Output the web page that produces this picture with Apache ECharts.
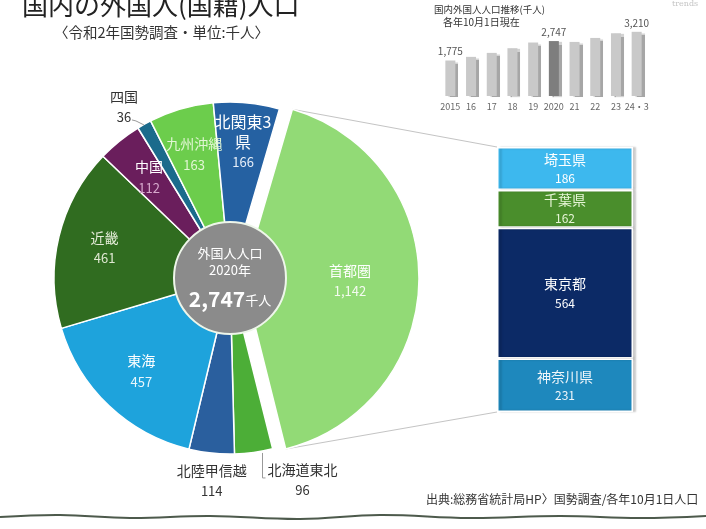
<!DOCTYPE html>
<html>
<head>
<meta charset="utf-8">
<script src="https://cdn.jsdelivr.net/npm/echarts@6/dist/echarts.min.js"></script>
<style>
  html, body { margin: 0; padding: 0; background: #fff; }
  #main { width: 706px; height: 529px; }
</style>
</head>
<body>
<div id="main"></div>
<script>
// 地域別の外国人人口（千人）
const regionNames = ['首都圏', '北海道東北', '北陸甲信越', '東海', '近畿', '中国', '四国', '九州沖縄', '北関東3県'];
const regionLabels = ['首都圏', '北海道東北', '北陸甲信越', '東海', '近畿', '中国', '四国', '九州沖縄', '北関東3\n県'];
const regionValues = [1142, 96, 114, 457, 461, 112, 36, 163, 166];

// 首都圏の内訳
const metroNames = ['埼玉県', '千葉県', '東京都', '神奈川県'];
const metroValues = [186, 162, 564, 231];

// 推移（千人）
const trendYears = ['2015', '16', '17', '18', '19', '2020', '21', '22', '23', '24・3'];
const trendValues = [1775, 1957, 2156, 2390, 2674, 2747, 2704, 2903, 3137, 3210];
const trendLabeled = ['2015', '2020', '24・3'];

// styles
const regionColors = ['#92da76', '#4cae37', '#2a5f9e', '#1ea3dc', '#306c20', '#6a1e5c', '#1b6b8c', '#6ccd4c', '#2561a2'];
const regionTextColors = ['#fff', '#333', '#333', '#fff', '#e4ecd8', '#fff', '#333', '#e2f6d4', '#fff'];
const regionValueColors = ['#f4fbf0', '#333', '#333', '#e8f6fc', '#dfe8d2', '#d6a8cc', '#333', '#e2f6d4', '#e6eef8'];
const metroColors = ['#3db8ee', '#4a8e2c', '#0c2a66', '#1e88bd'];
const metroTextColors = ['#fff', '#e6f5d6', '#fff', '#f0f6fa'];

const FONT = 'Noto Sans CJK JP';
const PIE_CENTER = [230, 278];
const PIE_R = 176;
const PIE_OFFSET = 13;
const START_ANGLE = 73.7;
const METRO_GRID = { left: 497, top: 147, width: 136, height: 265 };
const OUTSIDE = ['四国', '北陸甲信越', '北海道東北', '北関東3県'];

const chart = echarts.init(document.getElementById('main'));

const total = regionValues.reduce((a, b) => a + b, 0);
const metroTotal = metroValues.reduce((a, b) => a + b, 0);

function regionLabel(i) {
    const big = regionNames[i] === '北関東3県';
    return {
        color: regionTextColors[i],
        position: OUTSIDE.indexOf(regionNames[i]) >= 0 ? 'outside' : 'inside',
        formatter: '{n|' + regionLabels[i] + '}\n{v|' + regionValues[i].toLocaleString('en-US') + '}',
        rich: {
            n: { fontSize: big ? 16 : 14, lineHeight: big ? 20 : 21, align: 'center', fontFamily: FONT, color: regionTextColors[i] },
            v: { fontSize: 13, lineHeight: big ? 20 : 21, align: 'center', fontFamily: FONT, color: regionValueColors[i] }
        }
    };
}

function regionLabelLine(i) {
    if (regionNames[i] === '四国' || regionNames[i] === '北海道東北') return { show: true };
    return { show: false };
}

// 外側ラベルの位置はスライスの外接矩形から決める
function pieLabelLayout(params) {
    const name = regionNames[params.dataIndex];
    const r = params.rect;
    if (name === '北陸甲信越') {
        return { x: r.x + r.width / 2, y: r.y + r.height + 6, align: 'center', verticalAlign: 'top' };
    }
    if (name === '北海道東北') {
        const lx = r.x + r.width * 0.75;
        const y0 = r.y + r.height;
        return {
            x: lx + 5, y: y0 + 5, align: 'left', verticalAlign: 'top',
            labelLinePoints: [[lx, y0 - 1], [lx, y0 + 24], [lx + 3, y0 + 24]]
        };
    }
    if (name === '四国') {
        return {
            x: r.x - 14, y: r.y + 7, align: 'center', verticalAlign: 'bottom',
            labelLinePoints: [[r.x + 6, r.y + 4], [r.x - 2, r.y], [r.x - 6, r.y - 1]]
        };
    }
    if (name === '北関東3県') {
        return { x: r.x + r.width * 0.45, y: r.y + 40, align: 'center', verticalAlign: 'middle' };
    }
    if (name === '首都圏') {
        return { dx: -22 };
    }
    return {};
}

const pieSlices = regionValues.map((v, i) => ({
    name: regionNames[i],
    value: v,
    selected: i === 0,
    itemStyle: { color: regionColors[i] }
}));

const pieLabels = regionValues.map((v, i) => ({
    name: regionNames[i],
    value: v,
    selected: i === 0,
    label: regionLabel(i),
    labelLine: regionLabelLine(i)
}));

const metroSeries = metroValues.map((v, i) => ({
    type: 'bar',
    name: metroNames[i],
    stack: 'metro',
    xAxisIndex: 0,
    yAxisIndex: 0,
    barWidth: '100%',
    data: [v],
    silent: true,
    itemStyle: {
        color: metroColors[i],
        borderColor: '#fff',
        borderWidth: 1.5,
        shadowColor: 'rgba(0,0,0,0.18)',
        shadowOffsetX: 3,
        shadowBlur: 2
    },
    label: {
        show: true,
        position: 'inside',
        color: metroTextColors[i],
        fontFamily: FONT,
        formatter: '{n|' + metroNames[i] + '}\n{v|' + v + '}',
        rich: {
            n: { fontSize: 14, fontFamily: FONT, lineHeight: 20 },
            v: { fontSize: 12, fontFamily: FONT, lineHeight: 18 }
        }
    }
}));

const option = {
    animation: false,
    backgroundColor: '#fff',
    textStyle: { fontFamily: FONT },
    title: [
        { text: '国内の外国人(国籍)人口', left: 22, top: -8, padding: 0,
          textStyle: { fontSize: 26, fontWeight: 'normal', color: '#222', fontFamily: FONT } },
        { text: '〈令和2年国勢調査・単位:千人〉', left: 54, top: 25, padding: 0,
          textStyle: { fontSize: 14.5, fontWeight: 'normal', color: '#333', fontFamily: FONT } },
        { text: '出典:総務省統計局HP〉国勢調査/各年10月1日人口', left: 426, top: 493, padding: 0,
          textStyle: { fontSize: 12, fontWeight: 'normal', color: '#333', fontFamily: FONT } },
        { text: '国内外国人人口推移(千人)', left: 434, top: 5, padding: 0,
          textStyle: { fontSize: 9.5, fontWeight: 'normal', color: '#333', fontFamily: FONT } },
        { text: '各年10月1日現在', left: 443, top: 17, padding: 0,
          textStyle: { fontSize: 10, fontWeight: 'normal', color: '#333', fontFamily: FONT } },
        { text: 'trends', left: 672, top: 0, padding: 0,
          textStyle: { fontSize: 8, fontWeight: 'normal', color: '#c4c4c4', fontFamily: 'DejaVu Serif' } }
    ],
    grid: [
        Object.assign({}, METRO_GRID),
        { left: 440, top: 26, width: 207, height: 70 }
    ],
    xAxis: [
        { type: 'category', gridIndex: 0, data: [''], show: false },
        {
            type: 'category', gridIndex: 1, data: trendYears,
            axisLine: { show: false }, axisTick: { show: false },
            axisLabel: { fontSize: 9, color: '#666', margin: 6, fontFamily: FONT, interval: 0 }
        }
    ],
    yAxis: [
        { type: 'value', gridIndex: 0, min: 0, max: metroTotal, inverse: true, show: false },
        { type: 'value', gridIndex: 1, min: 0, max: 3500, show: false }
    ],
    series: [
        // slices
        {
            type: 'pie',
            z: 2,
            center: PIE_CENTER,
            radius: [0, PIE_R],
            startAngle: START_ANGLE,
            clockwise: true,
            selectedMode: 'single',
            selectedOffset: PIE_OFFSET,
            silent: true,
            label: { show: false },
            labelLine: { show: false },
            itemStyle: { borderColor: '#fff', borderWidth: 1.5 },
            select: { itemStyle: { borderColor: '#fff', borderWidth: 1.5 } },
            data: pieSlices
        },
        // center circle
        {
            type: 'pie',
            z: 4,
            center: PIE_CENTER,
            radius: [0, 56],
            silent: true,
            itemStyle: { color: '#8b8b8b', borderColor: '#eef6ea', borderWidth: 2 },
            label: {
                position: 'center',
                color: '#fff',
                formatter: '{a|外国人人口}\n{a|2020年}\n{b|' + total.toLocaleString('en-US') + '}{c|千人}',
                rich: {
                    a: { fontSize: 13, lineHeight: 17, color: '#fff', fontFamily: FONT },
                    b: { fontSize: 21, lineHeight: 32, color: '#fff', fontFamily: FONT, fontWeight: 'bold', padding: [8, 0, 0, 0] },
                    c: { fontSize: 13, lineHeight: 32, color: '#fff', fontFamily: FONT, padding: [10, 0, 0, 0] }
                }
            },
            labelLine: { show: false },
            data: [{ name: '外国人人口', value: total }]
        },
        // labels (placed farther out than the slice midpoint)
        {
            type: 'pie',
            z: 5,
            center: PIE_CENTER,
            radius: [76, PIE_R],
            startAngle: START_ANGLE,
            clockwise: true,
            selectedMode: 'single',
            selectedOffset: PIE_OFFSET,
            silent: true,
            itemStyle: { color: 'rgba(0,0,0,0)' },
            select: { itemStyle: { color: 'rgba(0,0,0,0)' } },
            label: { fontFamily: FONT },
            labelLine: { length: 8, length2: 6, lineStyle: { color: '#999', width: 1 } },
            labelLayout: pieLabelLayout,
            data: pieLabels
        },
        ...metroSeries,
        // trend
        {
            type: 'bar',
            xAxisIndex: 1,
            yAxisIndex: 1,
            barWidth: 10,
            silent: true,
            data: trendValues.map((v, i) => ({
                value: v,
                itemStyle: { color: trendYears[i] === '2020' ? '#7e7e7e' : '#c9c9c9' },
                label: { show: trendLabeled.indexOf(trendYears[i]) >= 0 }
            })),
            itemStyle: {
                shadowColor: 'rgba(0,0,0,0.35)',
                shadowOffsetX: 3,
                shadowOffsetY: 1,
                shadowBlur: 1
            },
            label: {
                position: 'top',
                distance: 4,
                fontSize: 10,
                color: '#555',
                fontFamily: FONT,
                formatter: p => p.value.toLocaleString('en-US')
            }
        }
    ]
};

chart.setOption(option);

// 首都圏スライスの角と内訳バーを結ぶ線
const span = regionValues[0] / total * 360;
const a0 = START_ANGLE * Math.PI / 180;
const a1 = (START_ANGLE - span) * Math.PI / 180;
const am = (a0 + a1) / 2;
const ox = PIE_CENTER[0] + PIE_OFFSET * Math.cos(am);
const oy = PIE_CENTER[1] - PIE_OFFSET * Math.sin(am);
const p0 = [ox + PIE_R * Math.cos(a0), oy - PIE_R * Math.sin(a0)];
const p1 = [ox + PIE_R * Math.cos(a1), oy - PIE_R * Math.sin(a1)];
const barTop = chart.convertToPixel({ gridIndex: 0 }, [0, 0]);
const barBottom = chart.convertToPixel({ gridIndex: 0 }, [0, metroTotal]);

chart.setOption({
    graphic: [
        { type: 'line', silent: true, z: 0,
          shape: { x1: p0[0], y1: p0[1], x2: METRO_GRID.left, y2: barTop[1] },
          style: { stroke: '#c4c4c4', lineWidth: 1 } },
        { type: 'line', silent: true, z: 0,
          shape: { x1: p1[0], y1: p1[1], x2: METRO_GRID.left, y2: barBottom[1] },
          style: { stroke: '#c4c4c4', lineWidth: 1 } },
        { type: 'polyline', silent: true,
          shape: { points: [[0, 517], [60, 515], [130, 518], [210, 516], [300, 519], [380, 515], [470, 518], [560, 516], [640, 518], [706, 516]], smooth: 0.4 },
          style: { stroke: '#4d5a4c', lineWidth: 2, fill: null } }
    ]
});
</script>
</body>
</html>
